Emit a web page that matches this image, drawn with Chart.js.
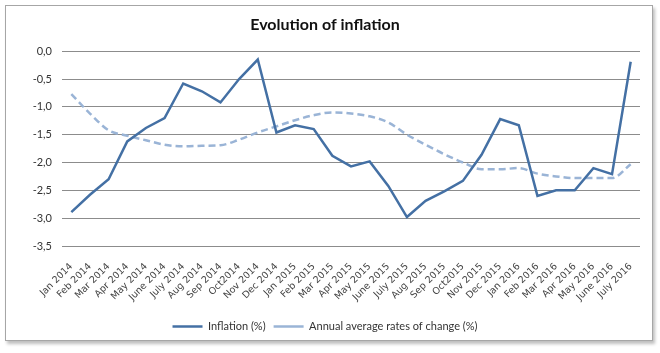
<!DOCTYPE html>
<html lang="en">
<head>
  <meta charset="UTF-8">
  <title>Evolution of inflation</title>
  <script src="https://cdn.jsdelivr.net/npm/chart.js"></script>
  <style>
    * { margin: 0; padding: 0; box-sizing: border-box; }
    body { background: #fff; width: 660px; height: 353px; overflow: hidden; }
    .frame {
      position: absolute;
      left: 5px; top: 5px;
      width: 648px; height: 336px;
      border: 1px solid #a6a6a6;
      box-shadow: 2px 3px 3px rgba(0, 0, 0, 0.25);
    }
    .wrap { position: absolute; left: 0; top: 0; width: 660px; height: 353px; }
  </style>
</head>
<body>
  <div class="frame"></div>
  <div class="wrap"><canvas id="chart" width="660" height="353"></canvas></div>

  <script>
    const months = [
      'Jan 2014', 'Feb 2014', 'Mar 2014', 'Apr 2014', 'May 2014', 'June 2014', 'July 2014',
      'Aug 2014', 'Sep 2014', 'Oct2014', 'Nov 2014', 'Dec 2014', 'Jan 2015', 'Feb 2015',
      'Mar 2015', 'Apr 2015', 'May 2015', 'June 2015', 'July 2015', 'Aug 2015', 'Sep 2015',
      'Oct2015', 'Nov 2015', 'Dec 2015', 'Jan 2016', 'Feb 2016', 'Mar 2016', 'Apr 2016',
      'May 2016', 'June 2016', 'July 2016'
    ];

    // Inflation (%)
    const inflation = [
      -2.89, -2.58, -2.30, -1.62, -1.38, -1.20, -0.58,
      -0.72, -0.92, -0.50, -0.15, -1.46, -1.33, -1.40,
      -1.88, -2.07, -1.98, -2.42, -2.98, -2.69, -2.52,
      -2.33, -1.86, -1.22, -1.33, -2.60, -2.50, -2.50,
      -2.10, -2.21, -0.19
    ];

    // Annual average rates of change (%)
    const annualAvg = [
      -0.77, -1.12, -1.42, -1.52, -1.60, -1.68, -1.71,
      -1.70, -1.69, -1.59, -1.46, -1.35, -1.24, -1.15,
      -1.10, -1.12, -1.17, -1.28, -1.50, -1.68, -1.85,
      -2.00, -2.12, -2.12, -2.10, -2.20, -2.25, -2.28,
      -2.28, -2.28, -2.03
    ];

    const yMin = -3.5, yMax = 0, yStep = 0.5;

    const ctx = document.getElementById('chart').getContext('2d');
    new Chart(ctx, {
      type: 'line',
      data: {
        labels: months,
        datasets: [{
          label: 'Inflation (%)',
          data: inflation,
          borderColor: '#4470a4',
          borderWidth: 2.5,
          pointRadius: 0,
          tension: 0,
          fill: false
        }, {
          label: 'Annual average rates of change (%)',
          data: annualAvg,
          borderColor: '#9ab4d6',
          borderWidth: 2.5,
          borderDash: [7, 4],
          pointRadius: 0,
          tension: 0.4,
          cubicInterpolationMode: 'monotone',
          fill: false
        }]
      },
      options: {
        responsive: false,
        animation: false,
        devicePixelRatio: 1,
        layout: { padding: { left: 10, right: 20, top: 10, bottom: 11 } },
        plugins: {
          title: {
            display: true,
            text: 'Evolution of inflation',
            color: '#111',
            font: { family: 'Lato', size: 16, weight: 'bold' },
            padding: { top: 5, bottom: 17 }
          },
          legend: {
            position: 'bottom',
            labels: {
              color: '#333',
              font: { family: 'Lato', size: 11 },
              usePointStyle: true,
              pointStyle: 'line',
              pointStyleWidth: 30,
              padding: 8
            }
          },
          tooltip: { enabled: false }
        },
        scales: {
          x: {
            offset: true,
            grid: { display: false },
            border: { display: false },
            ticks: {
              color: '#444',
              font: { family: 'DejaVu Sans', size: 9.5 },
              minRotation: 45,
              maxRotation: 45,
              autoSkip: false,
              padding: 7
            },
            afterFit: scale => { scale.height = 67; }
          },
          y: {
            min: yMin,
            max: yMax,
            grid: { color: '#8c8c8c', lineWidth: 1, drawTicks: false },
            border: { display: false },
            ticks: {
              stepSize: yStep,
              color: '#333',
              font: { family: 'Lato', size: 11 },
              padding: 10,
              callback: v => v.toFixed(1).replace('.', ',')
            },
            afterFit: scale => { scale.width = 52; }
          }
        }
      }
    });
  </script>
</body>
</html>
